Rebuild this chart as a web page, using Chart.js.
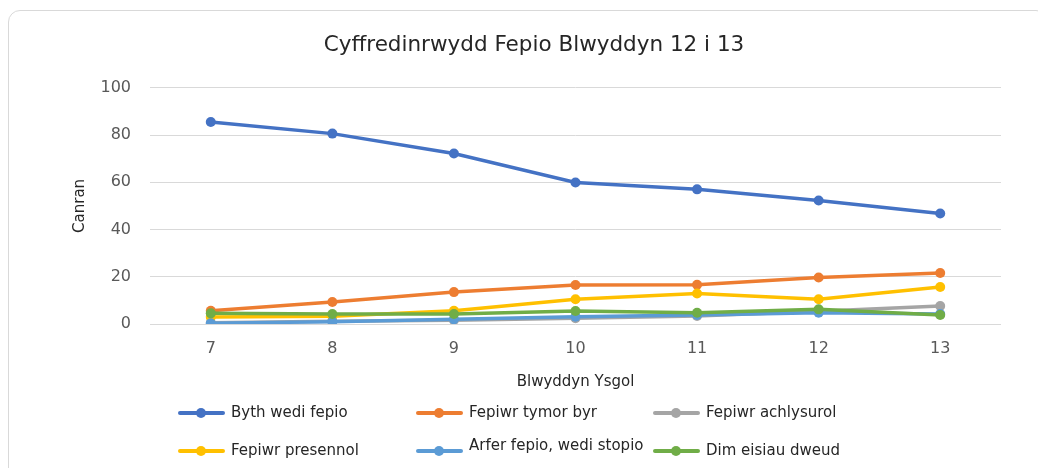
<!DOCTYPE html>
<html><head><meta charset="utf-8">
<script src="https://cdn.jsdelivr.net/npm/chart.js@4.4.1/dist/chart.umd.min.js"></script>
<style>
html,body{margin:0;padding:0;background:#fff;}
#wrap{position:relative;width:1038px;height:468px;overflow:hidden;}
#frame{position:absolute;left:8px;top:10px;width:1040px;height:480px;border:1px solid #d9d9d9;border-radius:12px;box-sizing:border-box;}
#c{position:absolute;left:0;top:0;}
.lgline{position:absolute;height:4px;border-radius:2px;}
.lgdot{position:absolute;width:10px;height:10px;border-radius:50%;}
.lgtxt{position:absolute;font-family:'DejaVu Sans';font-size:15px;color:#262626;white-space:nowrap;line-height:18px;}
</style>
</head><body>
<div id="wrap">
<div id="frame"></div>
<canvas id="c" width="1038" height="468"></canvas>
<div id="legend"></div>
</div>
<script>
const titleText = 'Cyffredinrwydd Fepio Blwyddyn 12 i 13';
const xTitle = 'Blwyddyn Ysgol';
const yTitle = 'Canran';
const categories = ['7','8','9','10','11','12','13'];
const seriesNames = ['Byth wedi fepio','Fepiwr tymor byr','Fepiwr achlysurol','Fepiwr presennol','Arfer fepio, wedi stopio','Dim eisiau dweud'];
const seriesColors = ['#4472C4','#ED7D31','#A5A5A5','#FFC000','#5B9BD5','#70AD47'];
const bythWediFepio = [85.5, 80.6, 72.2, 59.9, 57.0, 52.3, 46.8];
const fepiwrTymorByr = [5.6, 9.3, 13.5, 16.5, 16.6, 19.7, 21.6];
const fepiwrAchlysurol = [0.5, 1.2, 1.6, 2.4, 3.4, 5.4, 7.6];
const fepiwrPresennol = [3.0, 3.3, 5.6, 10.5, 12.9, 10.5, 15.7];
const arferFepio = [0.3, 1.0, 2.0, 3.1, 3.8, 4.8, 4.2];
const dimEisiauDweud = [4.5, 4.2, 4.2, 5.5, 4.8, 6.2, 3.8];
const yTicks = [0, 20, 40, 60, 80, 100];

const allData = [bythWediFepio, fepiwrTymorByr, fepiwrAchlysurol, fepiwrPresennol, arferFepio, dimEisiauDweud];
const FONT = 'DejaVu Sans';

const datasets = allData.map((d, i) => ({
  label: seriesNames[i],
  data: d,
  borderColor: seriesColors[i],
  backgroundColor: seriesColors[i],
  pointBackgroundColor: seriesColors[i],
  pointBorderColor: seriesColors[i],
  borderWidth: 3.5,
  pointRadius: 5,
  pointBorderWidth: 0,
  tension: 0,
  fill: false,
  order: allData.length - i
}));

new Chart(document.getElementById('c'), {
  type: 'line',
  data: { labels: categories, datasets },
  options: {
    responsive: false,
    animation: false,
    layout: { padding: { left: 67, right: 37, top: 20, bottom: 73 } },
    plugins: {
      legend: { display: false },
      tooltip: { enabled: false },
      title: {
        display: true, text: titleText, color: '#262626',
        font: { family: FONT, size: 21.5, weight: 'normal' },
        padding: { top: 13, bottom: 29 }
      }
    },
    scales: {
      x: {
        offset: true,
        grid: { display: false, drawTicks: false, offset: true },
        border: { display: false },
        ticks: { color: '#595959', font: { family: FONT, size: 16 }, padding: 15 },
        title: { display: true, text: xTitle, color: '#262626', font: { family: FONT, size: 15 }, padding: { top: 0, bottom: 4 } },
        afterFit: (s) => { s.height = 71; }
      },
      y: {
        min: 0, max: 100,
        afterBuildTicks: (s) => { s.ticks = yTicks.map(v => ({ value: v })); },
        grid: { color: '#d9d9d9', lineWidth: 1, drawTicks: false },
        border: { display: false },
        ticks: { color: '#595959', font: { family: FONT, size: 16 }, padding: 19 },
        title: { display: true, text: yTitle, color: '#262626', font: { family: FONT, size: 15 }, padding: { top: 4, bottom: 0 } },
        afterFit: (s) => { s.width = 83; }
      }
    }
  }
});

// legend
const lg = document.getElementById('legend');
const colX = [178, 416, 653];
const rowY = [413, 451];
seriesNames.forEach((name, i) => {
  const x = colX[i % 3], y = rowY[Math.floor(i / 3)];
  const line = document.createElement('div');
  line.className = 'lgline';
  line.style.cssText = `left:${x}px;top:${y-2}px;width:47px;background:${seriesColors[i]};`;
  const dot = document.createElement('div');
  dot.className = 'lgdot';
  dot.style.cssText = `left:${x+18}px;top:${y-5}px;background:${seriesColors[i]};`;
  const t = document.createElement('div');
  t.className = 'lgtxt';
  const dy = (i === 4) ? -6 : -1;
  t.style.cssText = `left:${x+53}px;top:${y-9+dy}px;`;
  t.textContent = name;
  lg.appendChild(line); lg.appendChild(dot); lg.appendChild(t);
});
</script>
</body></html>
